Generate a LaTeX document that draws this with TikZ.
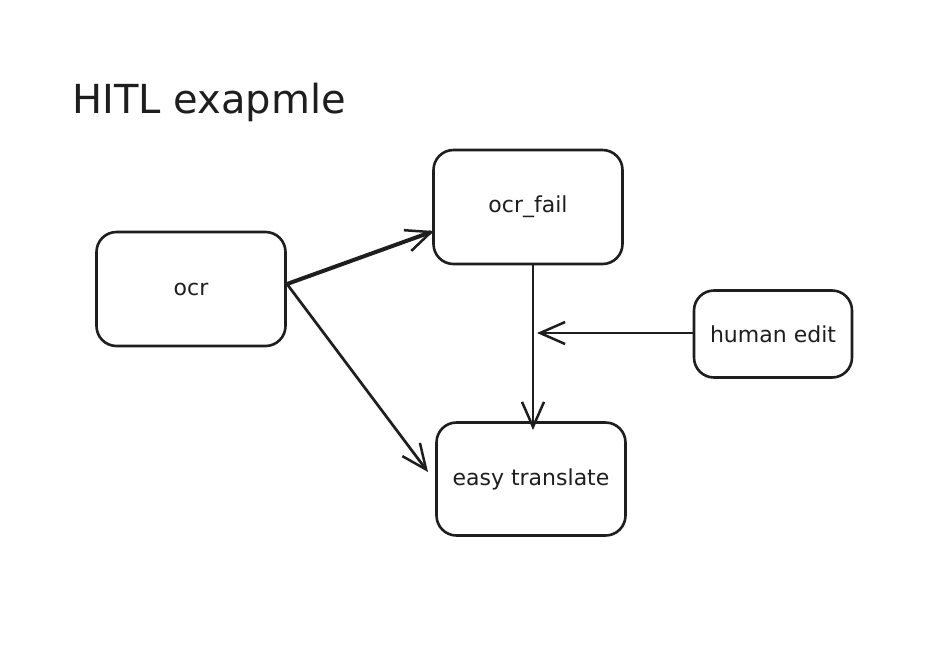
\documentclass[tikz,border=0pt]{standalone}
\usepackage{fontspec}
\setmainfont{DejaVu Sans}
\usetikzlibrary{arrows.meta}
\definecolor{ink}{HTML}{1E1E1E}
\begin{document}
\begin{tikzpicture}[x=1pt,y=-1pt,
  box/.style={draw=ink, line width=2.6pt, rounded corners=20pt, font=\fontsize{22}{26}\selectfont, text=ink},
  conn/.style={draw=ink, line width=2.7pt, line cap=round, -{Straight Barb[length=25pt,width=22pt,line width=2.5pt]}}]
\useasboundingbox[fill=white] (0,0) rectangle (934,646);
\node[anchor=west, font=\fontsize{40}{44}\selectfont, text=ink] (title) at (69,102) {HITL exapmle};
\node[box, minimum width=189pt, minimum height=114pt] (ocr) at (191,289) {ocr};
\node[box, minimum width=189pt, minimum height=114pt] (fail) at (528,207) {ocr\_fail};
\node[box, minimum width=158pt, minimum height=87pt] (human) at (773,334) {human edit};
\node[box, minimum width=189pt, minimum height=113pt] (easy) at (531,479) {easy translate};
\coordinate (tipfail) at (434,231);
\coordinate (tipeasy) at (428,472);
\coordinate (vtop) at (533,265);
\coordinate (vbot) at (533,430);
\coordinate (htip) at (537,333);
\coordinate (ocrout) at (287,284);
\draw[conn, line width=4pt] (ocrout) -- (tipfail);
\draw[conn] (ocrout) -- (tipeasy);
\draw[conn] (vtop) -- (vbot);
\draw[conn] (human.west |- htip) -- (htip);
\end{tikzpicture}
\end{document}
